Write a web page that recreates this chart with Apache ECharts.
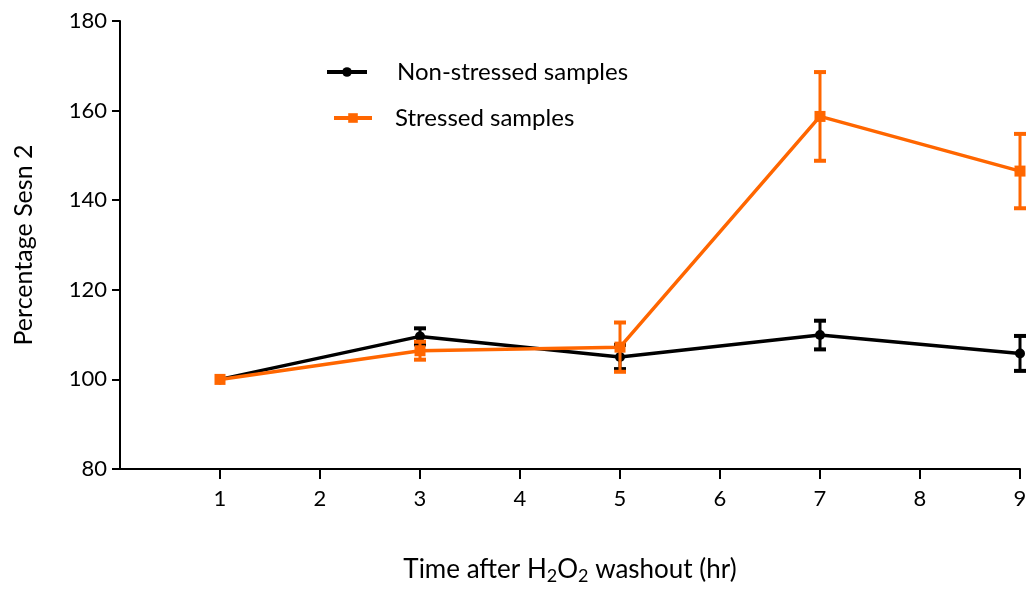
<!DOCTYPE html>
<html><head><meta charset="utf-8">
<script src="https://cdn.jsdelivr.net/npm/echarts@6/dist/echarts.min.js"></script>
<style>html,body{margin:0;padding:0;background:#fff}#c{width:1030px;height:590px}</style>
</head><body><div id="c"></div>
<script>
var times = [1, 3, 5, 7, 9];
var nonStressedMean = [100, 109.6, 105.0, 109.9, 105.8];
var nonStressedErr  = [0, 1.8, 2.7, 3.2, 3.9];
var stressedMean = [100, 106.4, 107.2, 158.7, 146.5];
var stressedErr  = [0, 2.0, 5.5, 9.9, 8.3];
var xTicks = [1, 2, 3, 4, 5, 6, 7, 8, 9];
var yTicks = [80, 100, 120, 140, 160, 180];

var FONT = 'Lato';
var BLACK = '#000000', ORANGE = '#FF6600';

function pairs(mean){ return times.map(function(t,i){ return [t, mean[i]]; }); }
function errData(mean, err){ return times.map(function(t,i){ return [t, mean[i]-err[i], mean[i]+err[i]]; }); }

function errRender(color){
  return function(params, api){
    var x = api.value(0), lo = api.value(1), hi = api.value(2);
    if (hi - lo < 0.01) return null;
    var pLo = api.coord([x, lo]), pHi = api.coord([x, hi]);
    var w = 6;
    var st = {stroke: color, lineWidth: 3};
    var cap = {stroke: color, lineWidth: 4};
    return {type: 'group', children: [
      {type: 'line', shape: {x1: pLo[0], y1: pLo[1], x2: pHi[0], y2: pHi[1]}, style: st},
      {type: 'line', shape: {x1: pLo[0]-w, y1: pLo[1], x2: pLo[0]+w, y2: pLo[1]}, style: cap},
      {type: 'line', shape: {x1: pHi[0]-w, y1: pHi[1], x2: pHi[0]+w, y2: pHi[1]}, style: cap}
    ]};
  };
}

var chart = echarts.init(document.getElementById('c'), null, {renderer: 'canvas'});
chart.setOption({
  animation: false,
  backgroundColor: '#fff',
  textStyle: {fontFamily: FONT},
  grid: {left: 120, right: 10, top: 21, bottom: 117, containLabel: false},
  legend: [
    {left: 320, top: 55, itemWidth: 40, itemHeight: 12, data: ['Non-stressed samples'],
     lineStyle: {width: 4},
     textStyle: {fontFamily: FONT, fontSize: 24, color: '#000', padding: [0,0,0,25]}},
    {left: 327, top: 101, itemWidth: 38, itemHeight: 12, data: ['Stressed samples'],
     lineStyle: {width: 4},
     textStyle: {fontFamily: FONT, fontSize: 24, color: '#000', padding: [0,0,0,18]}}
  ],
  xAxis: {
    type: 'value', min: 0, max: 9, interval: 1,
    name: 'Time after H{sub|2}O{sub|2} washout (hr)',
    nameLocation: 'middle', nameGap: 86,
    nameTextStyle: {fontFamily: FONT, fontSize: 26, color: '#000',
      rich: {sub: {fontFamily: FONT, fontSize: 18, color: '#000', verticalAlign: 'bottom', padding: [12,0,0,0]}}},
    axisLine: {show: true, onZero: false, lineStyle: {color: '#000', width: 2}},
    axisTick: {show: true, length: 10, lineStyle: {color: '#000', width: 2}, customValues: xTicks},
    axisLabel: {fontFamily: FONT, fontSize: 22, color: '#000', margin: 19, customValues: xTicks},
    splitLine: {show: false}
  },
  yAxis: {
    type: 'value', min: 80, max: 180, interval: 20,
    name: 'Percentage Sesn 2', nameLocation: 'middle', nameGap: 84,
    nameTextStyle: {fontFamily: FONT, fontSize: 25, color: '#000'},
    axisLine: {show: true, lineStyle: {color: '#000', width: 2}},
    axisTick: {show: true, length: 8, lineStyle: {color: '#000', width: 2}, customValues: yTicks},
    axisLabel: {fontFamily: FONT, fontSize: 22, color: '#000', margin: 13, customValues: yTicks},
    splitLine: {show: false}
  },
  series: [
    {name: 'Non-stressed samples', type: 'line', data: pairs(nonStressedMean),
     symbol: 'circle', symbolSize: 10, z: 3,
     lineStyle: {color: BLACK, width: 3.5}, itemStyle: {color: BLACK}},
    {type: 'custom', data: errData(nonStressedMean, nonStressedErr), renderItem: errRender(BLACK), z: 3,
     encode: {x: 0, y: [1, 2]}, silent: true},
    {name: 'Stressed samples', type: 'line', data: pairs(stressedMean),
     symbol: 'rect', symbolSize: 11, z: 4,
     lineStyle: {color: ORANGE, width: 3.5}, itemStyle: {color: ORANGE}},
    {type: 'custom', data: errData(stressedMean, stressedErr), renderItem: errRender(ORANGE), z: 4,
     encode: {x: 0, y: [1, 2]}, silent: true}
  ]
});
</script></body></html>
